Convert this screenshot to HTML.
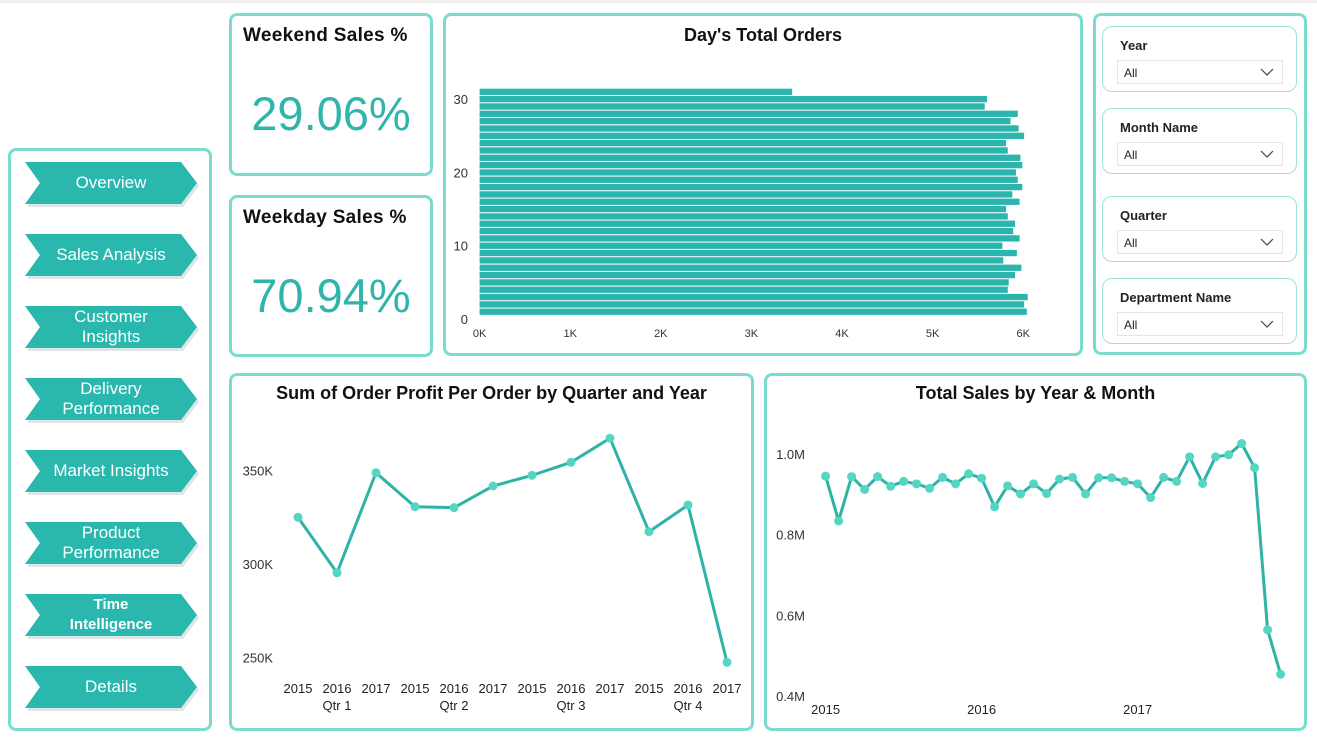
<!DOCTYPE html>
<html><head><meta charset="utf-8">
<style>
body{margin:0;width:1317px;height:739px;background:#fff;font-family:"Liberation Sans",sans-serif;position:relative;overflow:hidden}
.panel{position:absolute;border:3px solid #79dccd;border-radius:8px;box-sizing:border-box;background:#fff}
.title{position:absolute;left:0;right:0;text-align:center;font-weight:bold;font-size:18px;color:#111}
.kt{position:absolute;left:11px;font-weight:bold;font-size:19px;color:#111;letter-spacing:0.3px}
.kpi{position:absolute;left:0;right:0;text-align:center;font-size:47px;color:#2fb5aa}
.nav{position:absolute;left:25px;width:178px;height:48px}
.nav svg{position:absolute;left:0;top:0}
.nav span{position:absolute;left:8px;width:156px;top:0;height:42px;display:flex;align-items:center;justify-content:center;text-align:center;color:#fff;font-size:17px;line-height:20px}
.slicer{position:absolute;left:1102px;width:195px;height:66px;border:1px solid #9fe3d8;border-radius:10px;box-sizing:border-box}
.slicer b{position:absolute;left:17px;top:11px;font-size:13px;color:#222}
.drop{position:absolute;left:14px;top:33px;width:166px;height:24px;border:1px solid #e4e4e4;font-size:12px;color:#222;box-sizing:border-box}
.drop i{position:absolute;left:6px;top:5px;font-style:normal}
.drop svg{position:absolute;right:8px;top:7px}
svg text{font-family:"Liberation Sans",sans-serif}
</style></head><body>
<div style="position:absolute;left:0;top:0;width:1317px;height:3px;background:#eee"></div>

<div class="panel" style="left:229px;top:13px;width:204px;height:163px">
 <div class="kt" style="top:9px">Weekend Sales %</div>
 <div class="kpi" style="top:70px">29.06%</div>
</div>
<div class="panel" style="left:229px;top:195px;width:204px;height:162px">
 <div class="kt" style="top:9px">Weekday Sales %</div>
 <div class="kpi" style="top:70px">70.94%</div>
</div>

<div class="panel" style="left:8px;top:148px;width:204px;height:583px"></div>
<div id="navs"></div>

<div class="panel" style="left:443px;top:13px;width:640px;height:343px">
 <div class="title" style="top:9px">Day's Total Orders</div>
</div>
<svg id="bar" style="position:absolute;left:0;top:0" width="1317" height="739"></svg>

<div class="panel" style="left:1093px;top:13px;width:214px;height:342px"></div>
<div class="slicer" style="top:26px"><b>Year</b><div class="drop"><i>All</i><svg width="14" height="8"><path d="M1 1L7 7L13 1" fill="none" stroke="#444" stroke-width="1.2"/></svg></div></div>
<div class="slicer" style="top:108px"><b>Month Name</b><div class="drop"><i>All</i><svg width="14" height="8"><path d="M1 1L7 7L13 1" fill="none" stroke="#444" stroke-width="1.2"/></svg></div></div>
<div class="slicer" style="top:196px"><b>Quarter</b><div class="drop"><i>All</i><svg width="14" height="8"><path d="M1 1L7 7L13 1" fill="none" stroke="#444" stroke-width="1.2"/></svg></div></div>
<div class="slicer" style="top:278px"><b>Department Name</b><div class="drop"><i>All</i><svg width="14" height="8"><path d="M1 1L7 7L13 1" fill="none" stroke="#444" stroke-width="1.2"/></svg></div></div>

<div class="panel" style="left:229px;top:373px;width:525px;height:358px">
 <div class="title" style="top:7px">Sum of Order Profit Per Order by Quarter and Year</div>
</div>
<div class="panel" style="left:764px;top:373px;width:543px;height:358px">
 <div class="title" style="top:7px">Total Sales by Year &amp; Month</div>
</div>
<svg id="l1" style="position:absolute;left:0;top:0" width="1317" height="739"></svg>
<svg id="l2" style="position:absolute;left:0;top:0" width="1317" height="739"></svg>

<script>
// Bar chart data
const days=[1,2,3,4,5,6,7,8,9,10,11,12,13,14,15,16,17,18,19,20,21,22,23,24,25,26,27,28,29,30,31];
const orders=[6040,6010,6050,5830,5840,5910,5980,5780,5930,5770,5960,5890,5910,5830,5810,5960,5880,5990,5940,5920,5990,5970,5830,5810,6010,5950,5860,5940,5575,5600,3450];
const barXTicks=[0,1000,2000,3000,4000,5000,6000];
const barXLabels=["0K","1K","2K","3K","4K","5K","6K"];
const barYTicks=[0,10,20,30];
// Profit chart data
const qYears=["2015","2016","2017","2015","2016","2017","2015","2016","2017","2015","2016","2017"];
const quarters=["Qtr 1","Qtr 2","Qtr 3","Qtr 4"];
const profit=[325.0,295.3,348.9,330.7,330.2,341.8,347.5,354.5,367.4,317.3,331.6,247.3];
const profitTicks=[250,300,350];
// Sales chart data
const sales=[0.945,0.834,0.944,0.912,0.944,0.920,0.932,0.926,0.915,0.942,0.926,0.951,0.940,0.869,0.921,0.901,0.926,0.902,0.938,0.942,0.901,0.941,0.941,0.932,0.926,0.892,0.942,0.932,0.993,0.927,0.993,0.998,1.026,0.966,0.564,0.454];
const salesTicks=[0.4,0.6,0.8,1.0];
const salesTickLabels=["0.4M","0.6M","0.8M","1.0M"];
const salesYears=["2015","2016","2017"];

const NS="http://www.w3.org/2000/svg";
function mk(svg,tag,attrs,txt){const e=document.createElementNS(NS,tag);for(const k in attrs)e.setAttribute(k,attrs[k]);if(txt!==undefined)e.textContent=txt;svg.appendChild(e);return e;}

// nav buttons
const navLabels=["Overview","Sales Analysis","Customer<br>Insights","Delivery<br>Performance","Market Insights","Product<br>Performance","Time<br>Intelligence","Details"];
const navNames=["overview","sales-analysis","customer-insights","delivery-performance","market-insights","product-performance","time-intelligence","details"];
const navHost=document.getElementById('navs');
navLabels.forEach((l,i)=>{
 const d=document.createElement('div');d.className='nav';d.style.top=(162+i*72)+'px';
 
 
 const bold=i===6;
 d.innerHTML='<svg width="178" height="48"><polygon points="2,3 158,3 174,24 158,45 2,45 17,24" fill="#b9c6c5" opacity="0.45"/><polygon points="0,0 156,0 172,21 156,42 0,42 15,21" fill="#2ab7ae"/></svg><span style="'+(bold?'font-weight:bold;font-size:15px;':'')+'">'+l+'</span>';
 navHost.appendChild(d);
});

// bar chart
(function(){
 const s=document.getElementById('bar');
 const x=v=>479.6+v*0.0906, y=d=>319-d*7.33;
 barYTicks.forEach(t=>{const e=mk(s,'text',{x:468,y:y(t)+5,'text-anchor':'end','font-size':13,fill:'#333'},t);
  
  });
 barXTicks.forEach((t,i)=>{const e=mk(s,'text',{x:x(t),y:337,'text-anchor':'middle','font-size':11,fill:'#333'},barXLabels[i]);
  
  });
 days.forEach((d,i)=>{const r=mk(s,'rect',{x:x(0),y:y(d)-3.1,width:x(orders[i])-x(0),height:6.3,fill:'#2bb5ad'});
  
  });
})();

// profit line chart
(function(){
 const s=document.getElementById('l1');
 const x=i=>298+i*39, y=v=>470.7-(v-350)*1.866;
 profitTicks.forEach(t=>{const e=mk(s,'text',{x:273,y:y(t)+5,'text-anchor':'end','font-size':13,fill:'#333'},t+'K');
  
  });
 qYears.forEach((yr,i)=>{const e=mk(s,'text',{x:x(i),y:693,'text-anchor':'middle','font-size':13,fill:'#222'},yr);
  
  });
 quarters.forEach((q,i)=>{const e=mk(s,'text',{x:x(i*3+1),y:710,'text-anchor':'middle','font-size':13,fill:'#222'},q);
  
  });
 const p=mk(s,'polyline',{points:profit.map((v,i)=>x(i)+','+y(v)).join(' '),fill:'none',stroke:'#2fb3a7','stroke-width':3,'stroke-linejoin':'round'});
 
 
 profit.forEach((v,i)=>{const c=mk(s,'circle',{cx:x(i),cy:y(v),r:4.5,fill:'#55d6c2'});
  
  });
})();

// sales line chart
(function(){
 const s=document.getElementById('l2');
 const x=i=>825.6+i*13.0, y=v=>454-(v-1.0)*403.3;
 salesTicks.forEach((t,i)=>{const e=mk(s,'text',{x:805,y:y(t)+5,'text-anchor':'end','font-size':13,fill:'#333'},salesTickLabels[i]);
  
  });
 salesYears.forEach((yr,i)=>{const e=mk(s,'text',{x:x(i*12),y:714,'text-anchor':'middle','font-size':13,fill:'#222'},yr);
  
  });
 const p=mk(s,'polyline',{points:sales.map((v,i)=>x(i)+','+y(v)).join(' '),fill:'none',stroke:'#2fb3a7','stroke-width':3,'stroke-linejoin':'round'});
 
 
 sales.forEach((v,i)=>{const c=mk(s,'circle',{cx:x(i),cy:y(v),r:4.5,fill:'#55d6c2'});
  
  });
})();
</script>
</body></html>
